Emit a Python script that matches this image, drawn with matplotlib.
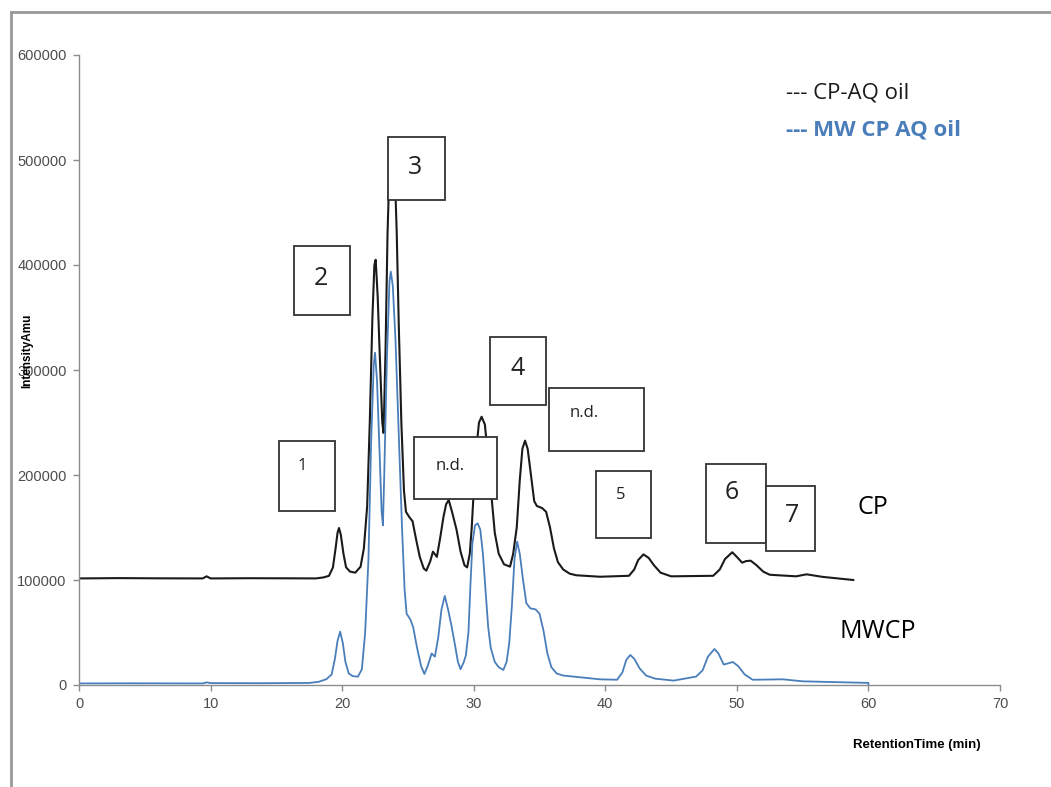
import matplotlib
matplotlib.use("Agg")
import matplotlib.pyplot as plt
from matplotlib.patches import Rectangle
from matplotlib.lines import Line2D

# chromatogram of CP-AQ oil (time in min, intensity)
cp_time = [0, 3, 6, 9.4, 9.7, 10.0, 13, 16, 18.0, 18.6, 19.0, 19.3, 19.5, 19.65, 19.76,
           19.9, 20.1, 20.3, 20.6, 21.0, 21.4, 21.65, 21.9, 22.1, 22.3, 22.45, 22.55,
           22.7, 22.9, 23.05, 23.15, 23.3, 23.45, 23.6, 23.8, 24.0, 24.15, 24.3, 24.5,
           24.7, 24.85, 25.1, 25.35, 25.6, 25.9, 26.2, 26.4, 26.7, 26.9, 27.2, 27.45,
           27.7, 27.9, 28.1, 28.35, 28.7, 29.0, 29.3, 29.5, 29.7, 29.85, 30.0, 30.2, 30.4,
           30.6, 30.85, 31.1, 31.35, 31.6, 31.9, 32.3, 32.76, 33.0, 33.27, 33.5, 33.7, 33.9,
           34.1, 34.35, 34.6, 34.8, 35.2, 35.5, 35.8, 36.1, 36.4, 36.8, 37.3, 37.8, 39.6,
           41.8, 42.2, 42.5, 42.9, 43.3, 43.7, 44.2, 45.0, 48.2, 48.7, 49.1, 49.65, 50.0,
           50.4, 50.7, 51.05, 51.5, 52.0, 52.5, 54.5, 55.3, 56.5, 58.85]
cp_int = [101500, 101800, 101600, 101500, 103500, 101500, 101700, 101600, 101500, 102500,
          104000, 112000, 130000, 145000, 149500, 143000, 125000, 112000, 108000, 107000,
          112700, 130000, 170000, 250000, 350000, 400000, 405000, 370000, 300000, 250000,
          240000, 320000, 430000, 495000, 510000, 490000, 430000, 345000, 250000, 185000,
          165000, 160000, 156000, 140000, 122000, 111000, 108900, 118000, 127000, 122000,
          140000, 160000, 172000, 176200, 165000, 147600, 127000, 114000, 112000, 125000,
          150000, 185000, 225000, 250000, 255500, 248000, 215000, 180000, 145000, 125000,
          115000, 112700, 125000, 150000, 195000, 225000, 232700, 225000, 200000, 175000,
          170500, 168500, 165000, 150000, 130000, 117000, 110000, 106000, 104500, 103100,
          104000, 110000, 119000, 124400, 121000, 114000, 107000, 103500, 104000, 110000,
          120000, 126400, 122000, 116500, 118000, 118400, 114000, 108000, 105000, 103500,
          105400, 103000, 100000]

# chromatogram of MW CP AQ oil
mw_time = [0, 4, 9.4, 9.7, 10.0, 14, 17.5, 18.2, 18.8, 19.2, 19.45, 19.65, 19.85, 20.05,
           20.25, 20.5, 20.8, 21.2, 21.5, 21.75, 22.0, 22.2, 22.4, 22.5, 22.65, 22.85,
           23.0, 23.1, 23.2, 23.4, 23.6, 23.7, 23.85, 24.05, 24.3, 24.55, 24.75, 24.9,
           25.2, 25.4, 25.7, 26.0, 26.25, 26.5, 26.8, 27.05, 27.3, 27.55, 27.8, 28.05,
           28.3, 28.55, 28.8, 29.0, 29.25, 29.4, 29.6, 29.75, 29.9, 30.1, 30.3, 30.5, 30.7,
           30.9, 31.1, 31.3, 31.6, 31.9, 32.25, 32.5, 32.7, 32.9, 33.1, 33.3, 33.5, 33.75,
           34.0, 34.3, 34.7, 35.0, 35.3, 35.6, 35.9, 36.3, 36.8, 39.6, 40.9, 41.3, 41.6,
           41.9, 42.2, 42.6, 43.1, 43.8, 45.2, 46.9, 47.4, 47.8, 48.3, 48.6, 49.0, 49.3,
           49.7, 50.1, 50.6, 51.2, 53.5, 55, 60.0, 60.0]
mw_int = [1500, 1600, 1500, 2500, 1800, 1700, 2000, 3000, 5500, 10000, 25000, 42000,
          50800, 40000, 22000, 11000, 8500, 7900, 15000, 50000, 120000, 230000, 305000,
          316500, 290000, 220000, 165000, 152000, 200000, 310000, 385000, 393600, 380000,
          330000, 240000, 150000, 90000, 68000, 62000, 55000, 35000, 18000, 10500, 18000,
          30000, 27000, 45000, 72000, 84800, 72000, 57000, 40000, 22000, 15000, 22000,
          28000, 50000, 95000, 135000, 152000, 154000, 148000, 125000, 90000, 55000,
          35000, 22000, 17000, 14300, 22000, 40000, 75000, 120000, 136500, 125000, 100000,
          78000, 73000, 72000, 68000, 52000, 30000, 17000, 11000, 9000, 5400, 5000, 12000,
          24000, 28600, 25000, 16000, 9000, 6000, 4200, 8000, 14000, 27000, 34300, 30000,
          19500, 20500, 21900, 18000, 10000, 5000, 5400, 3500, 2000, 0]

# peak labels: text, box (t0, t1, i0, i1), text position, font size
peak_labels = ["1", "2", "3", "n.d.", "4", "n.d.", "5", "6", "7"]
peak_boxes = [(15.2, 19.46, 165700, 232400), (16.34, 20.6, 352400, 418100),
              (23.49, 27.82, 461900, 521900), (25.46, 31.77, 177100, 236200),
              (31.24, 35.49, 266700, 331400), (35.72, 42.95, 222900, 282900),
              (39.3, 43.48, 140000, 203800), (47.66, 52.2, 135200, 210500),
              (52.2, 55.94, 127600, 189500)]
peak_text_pos = [(17.0, 208600), (18.4, 387600), (25.54, 493300), (28.2, 208600),
                 (33.3, 301900), (38.4, 259000), (41.2, 181000), (49.6, 182900),
                 (54.2, 161900)]
peak_text_size = [12, 18, 18, 12, 18, 12, 12, 18, 18]

black = "#1a1a1a"
blue = "#4a7ebb"

fig = plt.figure(figsize=(10.51, 7.87), dpi=100)
ax = fig.add_axes([79 / 1051, 1 - 685 / 787, 921 / 1051, 630 / 787])

ax.plot(cp_time, cp_int, color=black, lw=1.5, zorder=2)
ax.plot(mw_time, mw_int, color=blue, lw=1.3, zorder=2)

ax.set_xlim(0, 70)
ax.set_ylim(0, 600000)
ax.set_xticks(range(0, 71, 10))
ax.set_yticks(range(0, 600001, 100000))

# only left/bottom axis lines, excel style
for s in ["top", "right"]:
    ax.spines[s].set_visible(False)
for s in ["left", "bottom"]:
    ax.spines[s].set_color("#8c8c8c")
    ax.spines[s].set_linewidth(1.0)
ax.tick_params(axis="both", direction="out", length=4, width=1.0, color="#8c8c8c",
               labelsize=10.5, labelcolor="#4d4d4d")
ax.tick_params(axis="y", pad=5)
ax.tick_params(axis="x", pad=5)
for lab in ax.get_xticklabels() + ax.get_yticklabels():
    lab.set_family("Liberation Sans")

# labelled boxes over the peaks
for i in range(len(peak_labels)):
    t0, t1, i0, i1 = peak_boxes[i]
    ax.add_patch(Rectangle((t0, i0), t1 - t0, i1 - i0, facecolor="white",
                           edgecolor="#333333", lw=1.3, zorder=3, clip_on=False))
    ax.text(peak_text_pos[i][0], peak_text_pos[i][1], peak_labels[i],
            fontsize=peak_text_size[i], family="Open Sans", color="#222222",
            ha="center", va="center", zorder=4)

ax.text(60.3, 168600, "CP", fontsize=18, family="Open Sans", ha="center", va="center")
ax.text(60.7, 50500, "MWCP", fontsize=18, family="Open Sans", ha="center", va="center")

# hand drawn legend
fig.text(786 / 1051, 1 - 93 / 787, "--- CP-AQ oil", fontsize=16, family="Open Sans",
         color=black, va="center")
fig.text(786 / 1051, 1 - 130 / 787, "--- MW CP AQ oil", fontsize=16, family="Open Sans",
         fontweight="bold", color=blue, va="center")

# axis titles (y title sits over the 300000 label, as in the original)
fig.text(27 / 1051, 1 - 351 / 787, "IntensityAmu", fontsize=8.5, fontweight="bold",
         family="Liberation Sans", rotation=90, ha="center", va="center")
fig.text(917 / 1051, 1 - 745 / 787, "RetentionTime (min)", fontsize=9.5,
         fontweight="bold", family="Liberation Sans", ha="center", va="center")

# outer frame (only top and left visible)
fig.add_artist(Line2D([11 / 1051, 11 / 1051], [0, 1 - 12 / 787], color="#999999", lw=2))
fig.add_artist(Line2D([11 / 1051, 1], [1 - 12 / 787, 1 - 12 / 787], color="#999999", lw=2))

fig.savefig("out.png", dpi=100)
